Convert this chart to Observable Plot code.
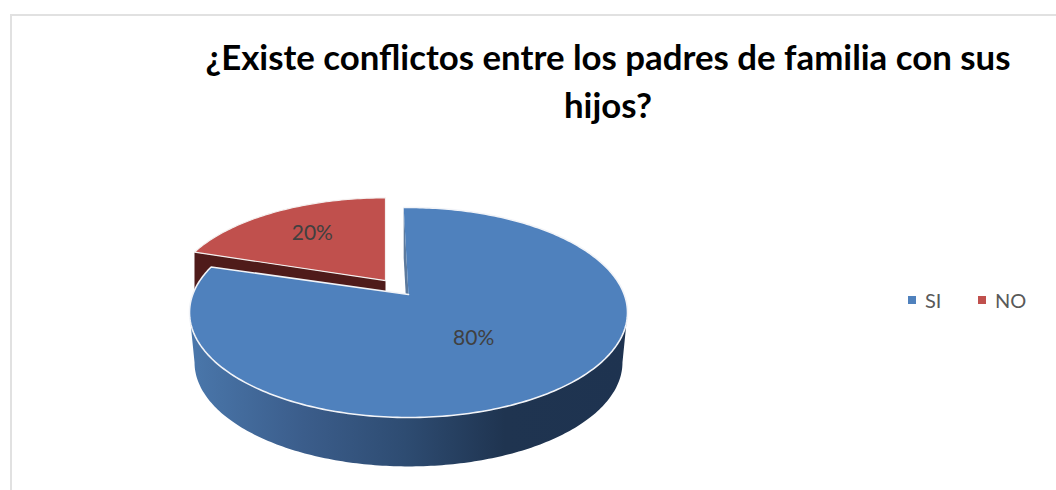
<!DOCTYPE html>
<html lang="es">
<head>
<meta charset="utf-8">
<script src="https://cdn.jsdelivr.net/npm/d3@7"></script>
<script src="https://cdn.jsdelivr.net/npm/@observablehq/plot@0.6"></script>
<style>
  html, body { margin: 0; padding: 0; background: #fff; }
  #page { position: relative; width: 1056px; height: 490px; overflow: hidden; font-family: Lato, "Open Sans", sans-serif; }
  #frame { position: absolute; left: 10px; top: 14px; width: 1100px; height: 500px; border: 2px solid #e1e1e1; }
  #title { position: relative; height: 160px; box-sizing: border-box; margin: 0; padding-top: 33px; padding-left: 200px; width: 1016px;
           text-align: center; font-size: 34.8px; line-height: 48px; font-weight: 700; color: #000; }
  #chart { position: relative; height: 330px; }
  #chart svg { display: block; background: transparent; }
  #legend { position: absolute; left: 908px; top: 286px; height: 28px; display: flex; align-items: center; font-size: 20px; color: #595959; }
  #legend span.k { display: inline-block; width: 8px; height: 8px; margin-right: 9px; }
  #legend span.t { margin-right: 36.5px; }
</style>
</head>
<body>
<div id="page">
  <div id="frame"></div>
  <h1 id="title">¿Existe conflictos entre los padres de familia con sus<br>hijos?</h1>
  <div id="chart"></div>
  <div id="legend"></div>
</div>
<script>
const categories = ["SI", "NO"];
const values = [80, 20];
const labels = ["80%", "20%"];
const topColors = ["#4f81bd", "#c0504d"];
const wallColors = ["#5c7a9e", "#4f1b1a"];

// Perspective of the tilted disc: the disc centre is seen above the ellipse centre.
const tilt = 0.171;
const depth = 0.476;              // wall height, in ellipse units
const bottomScaleX = 0.977;
const bottomScaleY = 0.99;
const sliceRotation = [-1.5, 0];
const sliceShift = [[0, 0], [-0.105, 0.133]];
const sliceScale = [[1, 1], [0.98, 0.95]];
const labelRadius = [0.49, 0.65];
const labelTurn = [2.5, 0.5];

const rad = Math.PI / 180;
function disc(r, deg) {
  const u = r * Math.sin(deg * rad), v = r * Math.cos(deg * rad);
  const w = 1 + tilt * v;
  return {x: u * Math.sqrt(1 - tilt * tilt) / w, y: (v + tilt) / w};
}
const apex = disc(0, 0);
function place(p, i) {
  return {
    x: apex.x + (p.x - apex.x) * sliceScale[i][0] + sliceShift[i][0],
    y: apex.y + (p.y - apex.y) * sliceScale[i][1] + sliceShift[i][1]
  };
}

const total = d3.sum(values);
let cumulative = 0;
const slices = values.map((v, i) => {
  const start = cumulative / total * 360;
  cumulative += v;
  const end = cumulative / total * 360;
  return {i, category: categories[i], label: labels[i], a0: start + sliceRotation[i], a1: end + sliceRotation[i]};
});

function arc(s) {
  const n = Math.ceil(s.a1 - s.a0), pts = [];
  for (let k = 0; k <= n; ++k) pts.push(place(disc(1, s.a0 + (s.a1 - s.a0) * k / n), s.i));
  return pts;
}
const centre = i => place(apex, i);
const drop = p => ({x: p.x, y: p.y - depth});

const [blue, red] = slices;
const blueArc = arc(blue), redArc = arc(red);

// Outer wall of the blue slice: the front half of the rim ellipse down to the lower rim.
const frontTop = [], frontBottom = [];
for (let a = 90; a <= 270; a += 1) {
  frontTop.push({x: Math.sin(a * rad), y: Math.cos(a * rad)});
}
for (let a = 270; a >= 90; a -= 1) {
  frontBottom.push({x: Math.sin(a * rad) * bottomScaleX, y: Math.cos(a * rad) * bottomScaleY - depth});
}
const frontWall = [...frontTop, ...frontBottom];

// Cut walls.
const redEdge = [redArc[0], centre(1)];
const redWall = [redEdge[0], redEdge[1], drop(redEdge[1]), drop(redEdge[0])];
const blueEdge = [blueArc[0], centre(0)];
const blueWall = [blueEdge[0], blueEdge[1], drop(blueEdge[1]), drop(blueEdge[0])];

const blueFace = [centre(0), ...blueArc];
const redFace = [centre(1), ...redArc];
const blueOutline = [...blueArc, centre(0)];
const redOutline = [redArc[0], centre(1), ...[...redArc].reverse()];

const textPoints = slices.map(s => ({
  ...place(disc(labelRadius[s.i], (s.a0 + s.a1) / 2 + labelTurn[s.i]), s.i),
  label: s.label
}));

function gradientDefs() {
  const defs = d3.create("svg:defs");
  const g = defs.append("linearGradient").attr("id", "wallShade")
    .attr("x1", 0).attr("x2", 1).attr("y1", 0).attr("y2", 0);
  [[0, "#4a77ab"], [0.26, "#3b5d8b"], [0.49, "#2e4c72"], [0.72, "#1f3450"], [1, "#1e3350"]]
    .forEach(([o, c]) => g.append("stop").attr("offset", o).attr("stop-color", c));
  return defs.node();
}

const xy = {x: "x", y: "y"};
const chart = Plot.plot({
  width: 1056,
  height: 330,
  margin: 0,
  style: {background: "transparent", overflow: "visible"},
  x: {domain: [-1, 1], range: [189, 627], axis: null},
  y: {domain: [-1, 1], range: [257, 47], axis: null},
  marks: [
    gradientDefs,
    Plot.line(frontWall, {...xy, fill: "url(#wallShade)", stroke: "none"}),
    Plot.line(redWall, {...xy, fill: wallColors[1], stroke: "none"}),
    Plot.line(blueWall, {...xy, fill: wallColors[0], stroke: "none"}),
    Plot.line(redFace, {...xy, fill: topColors[1], stroke: "none"}),
    Plot.line(redOutline, {...xy, stroke: "#f4f0ef", strokeWidth: 1.2}),
    Plot.line(blueFace, {...xy, fill: topColors[0], stroke: "none"}),
    Plot.line(blueOutline, {...xy, stroke: "#f2f4f8", strokeWidth: 1.6}),
    Plot.text(textPoints, {...xy, text: "label", fontSize: 21, fill: "#404040", fontFamily: "Lato, 'Open Sans', sans-serif"})
  ]
});
document.getElementById("chart").append(chart);

const legend = document.getElementById("legend");
categories.forEach((c, i) => {
  const k = document.createElement("span");
  k.className = "k";
  k.style.background = topColors[i];
  const t = document.createElement("span");
  t.className = "t";
  t.textContent = c;
  legend.append(k, t);
});
</script>
</body>
</html>
